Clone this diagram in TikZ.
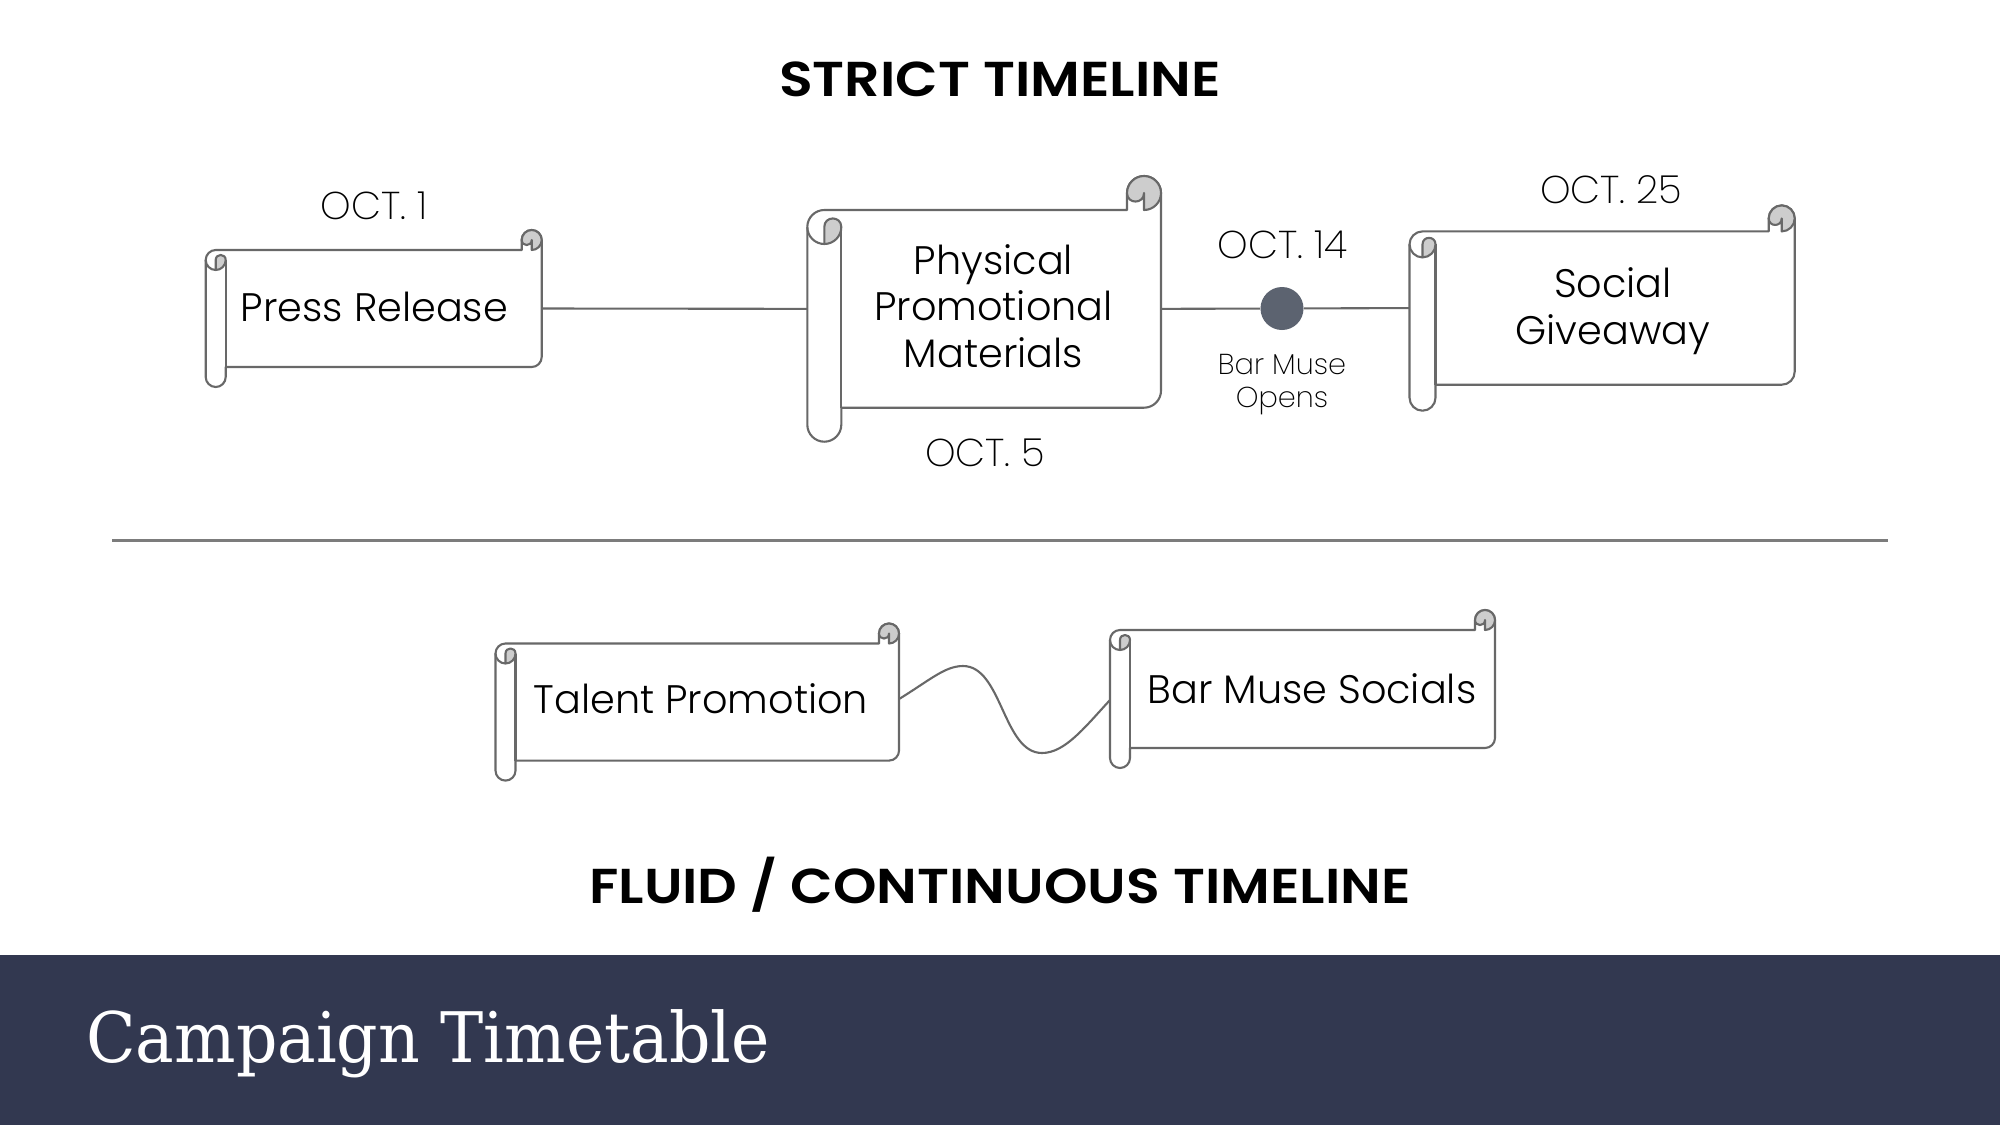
\documentclass[tikz,border=0pt]{standalone}
\usepackage{fontspec}
\usetikzlibrary{calc}
\setmainfont{Poppins}
\newfontfamily\lightfont{Poppins Light}
\newfontfamily\thinfont{Poppins ExtraLight}
\newfontfamily\boldfont[FakeStretch=1.13]{Poppins SemiBold}
\newfontfamily\titlefont[FakeStretch=0.93]{DejaVu Serif}
\definecolor{linegray}{HTML}{686868}
\definecolor{rulegray}{HTML}{7C7C7C}
\definecolor{curlgray}{HTML}{CDCDCD}
\definecolor{banner}{HTML}{323850}
\definecolor{dotgray}{HTML}{5C6370}
\tikzset{
  scrollline/.style={draw=linegray,line width=1.05pt,line join=round},
  link/.style={draw=linegray,line width=1.05pt},
  rule/.style={draw=rulegray,line width=1.05pt},
  heading/.style={font=\boldfont\fontsize{24.5}{28}\selectfont,text=black,inner sep=0pt},
  datelabel/.style={font=\thinfont\fontsize{19.4}{23}\selectfont,text=black,inner sep=0pt},
  bodylabel/.style={font=\lightfont\fontsize{19.9}{23.2}\selectfont,text=black,align=center,inner sep=0pt},
  smalllabel/.style={font=\thinfont\fontsize{14.4}{16.5}\selectfont,text=black,align=center,inner sep=0pt},
  anchorbox/.style={inner sep=0pt,outer sep=0pt,draw=none},
}
% name, x0, x1, y0, y1, w
\newcommand{\scrollshape}[6]{%
  \pgfmathsetmacro{\xa}{#2}\pgfmathsetmacro{\xb}{#3}%
  \pgfmathsetmacro{\ya}{#4}\pgfmathsetmacro{\yb}{#5}%
  \pgfmathsetmacro{\rr}{#6/2}%
  \pgfmathsetmacro{\yt}{\ya+#6}\pgfmathsetmacro{\ym}{\yb-#6}%
  \node[anchorbox,minimum width={(\xb-\xa)*0.5pt},minimum height={(\yb-\ya)*0.5pt}] (#1) at ({(\xa+\xb)/2},{(\ya+\yb)/2}) {};
  % body
  \draw[scrollline,fill=white]
    (\xa,\yt+\rr) .. controls (\xa,\yt+0.45*\rr) and (\xa+0.45*\rr,\yt) .. (\xa+\rr,\yt)
    -- (\xb-#6,\yt) -- (\xb-#6,\ya+\rr)
    .. controls (\xb-#6,\ya+0.45*\rr) and (\xb-1.55*\rr,\ya) .. (\xb-\rr,\ya)
    .. controls (\xb-0.45*\rr,\ya) and (\xb,\ya+0.45*\rr) .. (\xb,\ya+\rr)
    -- (\xb,\ym-\rr)
    .. controls (\xb,\ym-0.45*\rr) and (\xb-0.45*\rr,\ym) .. (\xb-\rr,\ym)
    -- (\xa+#6,\ym) -- (\xa+#6,\yb-\rr)
    .. controls (\xa+#6,\yb-0.45*\rr) and (\xa+1.55*\rr,\yb) .. (\xa+\rr,\yb)
    .. controls (\xa+0.45*\rr,\yb) and (\xa,\yb-0.45*\rr) .. (\xa,\yb-\rr)
    -- cycle;
  % right edge of left roll
  \draw[scrollline] (\xa+#6,\yt+\rr) -- (\xa+#6,\ym);
  % left curl
  \draw[scrollline,fill=curlgray]
    (\xa+\rr,\yt+2*\rr) -- (\xa+\rr,\yt+\rr)
    .. controls (\xa+\rr,\yt+0.33*\rr) and (\xa+#6,\yt+0.33*\rr) .. (\xa+#6,\yt+\rr)
    .. controls (\xa+#6,\yt+1.55*\rr) and (\xa+1.55*\rr,\yt+2*\rr) .. cycle;
  \draw[scrollline]
    (\xa,\yt+\rr) .. controls (\xa,\yt+1.55*\rr) and (\xa+0.45*\rr,\yt+2*\rr) .. (\xa+\rr,\yt+2*\rr);
  % right curl
  \draw[scrollline,fill=curlgray]
    (\xb-#6,\ya+\rr)
    .. controls (\xb-#6,\ya+0.45*\rr) and (\xb-1.55*\rr,\ya) .. (\xb-\rr,\ya)
    .. controls (\xb-0.45*\rr,\ya) and (\xb,\ya+0.45*\rr) .. (\xb,\ya+\rr)
    .. controls (\xb,\ya+1.55*\rr) and (\xb-0.45*\rr,\ya+2*\rr) .. (\xb-\rr,\ya+2*\rr)
    -- (\xb-\rr,\ya+\rr)
    .. controls (\xb-\rr,\ya+1.67*\rr) and (\xb-#6,\ya+1.67*\rr) .. cycle;
}
\begin{document}
\begin{tikzpicture}[x=0.5pt,y=-0.5pt]
\useasboundingbox (0,0) rectangle (2000,1125);
\fill[white] (0,0) rectangle (2000,1125);
\fill[banner] (0,955) rectangle (2000,1125);
\node[anchor=west,inner sep=0pt,text=white,font=\titlefont\fontsize{34.85}{40}\selectfont] (title) at (86,1044) {Campaign Timetable};

\node[heading] (h1) at (1000,79) {STRICT TIMELINE};
\node[heading] (h2) at (1000,885) {FLUID / CONTINUOUS TIMELINE};

\coordinate (divl) at (112,540.5);
\coordinate (divr) at (1888,540.5);
\draw[rule] (divl) -- (divr);

\scrollshape{s1}{205.7}{541.7}{230}{387}{20}
\scrollshape{s2}{807.3}{1161}{176}{441.7}{34}
\scrollshape{s3}{1409.5}{1794.7}{205.4}{410.7}{26}
\scrollshape{s4}{495.5}{899}{623.5}{780.6}{20}
\scrollshape{s5}{1110}{1495}{610}{768}{20}

\node[circle,fill=dotgray,inner sep=0pt,minimum size=21.5pt] (dot) at (1282,308.5) {};
\draw[link] (s1.east) -- (s2.west);
\draw[link] (s2.east) -- (dot);
\draw[link] (dot) -- (s3.west);
\draw[link] ($(s4.east)+(0,-3)$) .. controls (930,680) and (945,666) .. (963,666)
  .. controls (1002,666) and (1003,753) .. (1042,753)
  .. controls (1065,753) and (1085,727) .. ($(s5.west)+(0,11)$);

\node[bodylabel] (t1) at (374.5,307) {Press Release};
\node[bodylabel] (t2) at (993.5,306) {Physical\\Promotional\\Materials};
\node[bodylabel] (t3) at (1613,311) {Social\\Giveaway};
\node[bodylabel] (t4) at (701,699) {Talent Promotion};
\node[bodylabel] (t5) at (1312,689) {Bar Muse Socials};

\node[datelabel] (d1) at (374,205.5) {OCT. 1};
\node[datelabel] (d2) at (985,453) {OCT. 5};
\node[datelabel] (d3) at (1282.5,245) {OCT. 14};
\node[datelabel] (d4) at (1611,190) {OCT. 25};
\node[smalllabel] (n1) at (1282,385) {Bar Muse\\Opens};
\end{tikzpicture}
\end{document}
